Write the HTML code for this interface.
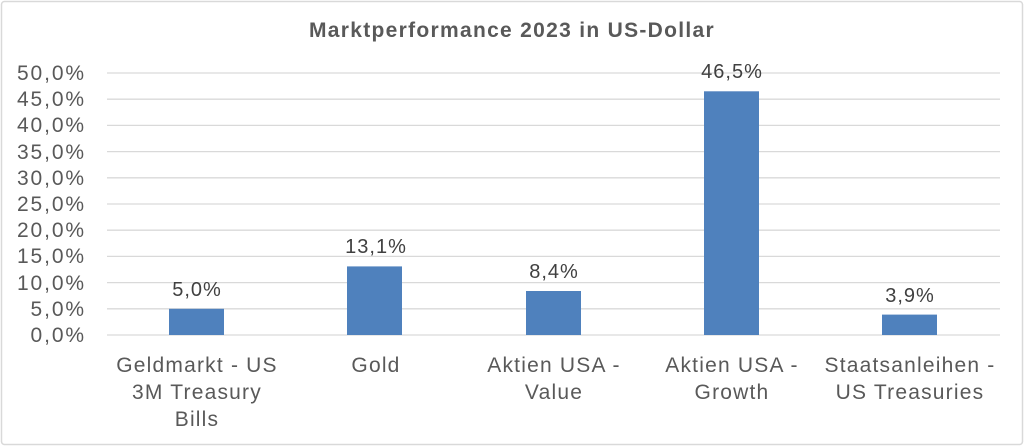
<!DOCTYPE html>
<html><head><meta charset="utf-8"><style>
body{margin:0;background:#fff;}
svg{display:block;font-family:"Liberation Sans",sans-serif;}
</style></head><body>
<svg width="1024" height="447" viewBox="0 0 1024 447">
<rect x="1.5" y="1.5" width="1021" height="443" rx="3" fill="#fff" stroke="#d9d9d9" stroke-width="1.5"/>
<text x="512" y="37" text-anchor="middle" font-size="21" font-weight="bold" fill="#595959" letter-spacing="1.3">Marktperformance 2023 in US-Dollar</text>
<g stroke="#d9d9d9" stroke-width="1.3">
<line x1="107" x2="1000" y1="73" y2="73"/><line x1="107" x2="1000" y1="99.2" y2="99.2"/>
<line x1="107" x2="1000" y1="125.4" y2="125.4"/><line x1="107" x2="1000" y1="151.6" y2="151.6"/>
<line x1="107" x2="1000" y1="177.8" y2="177.8"/><line x1="107" x2="1000" y1="204" y2="204"/>
<line x1="107" x2="1000" y1="230.2" y2="230.2"/><line x1="107" x2="1000" y1="256.4" y2="256.4"/>
<line x1="107" x2="1000" y1="282.6" y2="282.6"/><line x1="107" x2="1000" y1="308.8" y2="308.8"/>
<line x1="107" x2="1000" y1="335" y2="335"/>
</g>
<g font-size="21" fill="#595959" text-anchor="end" letter-spacing="1.9">
<text x="86" y="80">50,0%</text><text x="86" y="106">45,0%</text><text x="86" y="132">40,0%</text>
<text x="86" y="159">35,0%</text><text x="86" y="185">30,0%</text><text x="86" y="211">25,0%</text>
<text x="86" y="237">20,0%</text><text x="86" y="263">15,0%</text><text x="86" y="290">10,0%</text>
<text x="86" y="316">5,0%</text><text x="86" y="342">0,0%</text>
</g>
<g fill="#4f81bd">
<rect x="169" y="308.8" width="55" height="26.2"/>
<rect x="347" y="266.4" width="55" height="68.6"/>
<rect x="526" y="291" width="55" height="44"/>
<rect x="704" y="91.3" width="55" height="243.7"/>
<rect x="882" y="314.6" width="55" height="20.4"/>
</g>
<g font-size="20" fill="#404040" text-anchor="middle" letter-spacing="1">
<text x="197" y="296">5,0%</text><text x="376" y="253">13,1%</text><text x="554" y="278">8,4%</text>
<text x="732" y="78">46,5%</text><text x="910" y="302">3,9%</text>
</g>
<g font-size="21" fill="#595959" text-anchor="middle" letter-spacing="1.2">
<text x="197" y="372">Geldmarkt - US</text><text x="197" y="399">3M Treasury</text><text x="197" y="426">Bills</text>
<text x="376" y="372">Gold</text>
<text x="554" y="372">Aktien USA -</text><text x="554" y="399">Value</text>
<text x="732" y="372">Aktien USA -</text><text x="732" y="399">Growth</text>
<text x="910" y="372">Staatsanleihen -</text><text x="910" y="399">US Treasuries</text>
</g>
</svg>
</body></html>
